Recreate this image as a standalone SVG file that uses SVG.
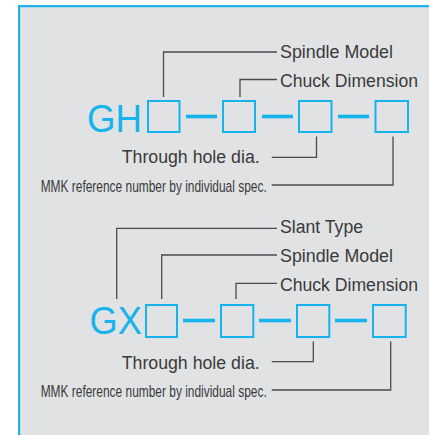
<svg xmlns="http://www.w3.org/2000/svg" width="429" height="435" viewBox="0 0 429 435">
<defs>
<style>
.panel{fill:#e1e2e4}
.edge{stroke:#1fb4ec;stroke-width:2.2;fill:none}
.box{fill:none;stroke:#17b3ec;stroke-width:2}
.dash{stroke:#17b3ec;stroke-width:3.6}
.code{font-family:"Liberation Sans",Arial,sans-serif;font-size:39px;fill:#17b3ec}
.lbl{font-family:"Liberation Sans",Arial,sans-serif;font-size:18px;fill:#3a3a3a}
.small{font-family:"Liberation Sans",Arial,sans-serif;font-size:17px;fill:#3a3a3a}
.lead{fill:none;stroke:#4a4a4a;stroke-width:1.3}
</style>
</defs>
<rect x="0" y="0" width="429" height="435" fill="#ffffff"/>
<rect class="panel" x="18" y="5" width="411" height="430"/>
<path class="edge" d="M19.1 435 V6.1 H429"/>

<g id="gh-code">
<text class="code" x="87" y="131.5" textLength="55" lengthAdjust="spacingAndGlyphs">GH</text>
<rect class="box" x="148" y="101" width="31.5" height="31"/>
<line class="dash" x1="186" y1="116.5" x2="217" y2="116.5"/>
<rect class="box" x="223" y="101" width="32" height="31"/>
<line class="dash" x1="262" y1="116.5" x2="293" y2="116.5"/>
<rect class="box" x="299" y="101" width="32.5" height="31"/>
<line class="dash" x1="338" y1="116.5" x2="369" y2="116.5"/>
<rect class="box" x="375.5" y="101" width="32.5" height="31"/>
</g>
<g id="gh-spindle"><text class="lbl" x="280" y="58.3" textLength="113" lengthAdjust="spacingAndGlyphs">Spindle Model</text></g>
<g id="gh-chuck"><text class="lbl" x="280" y="87.3" textLength="138" lengthAdjust="spacingAndGlyphs">Chuck Dimension</text></g>
<g id="gh-hole"><text class="lbl" x="121.7" y="163.3" textLength="138" lengthAdjust="spacingAndGlyphs">Through hole dia.</text></g>
<g id="gh-mmk"><text class="small" x="40.7" y="191.7" textLength="226" lengthAdjust="spacingAndGlyphs">MMK reference number by individual spec.</text></g>

<g id="gx-code">
<text class="code" x="89.5" y="334" textLength="52.5" lengthAdjust="spacingAndGlyphs">GX</text>
<rect class="box" x="146" y="305" width="31" height="32"/>
<line class="dash" x1="183" y1="320.5" x2="215" y2="320.5"/>
<rect class="box" x="221" y="305" width="32.3" height="32"/>
<line class="dash" x1="259" y1="320.5" x2="291" y2="320.5"/>
<rect class="box" x="297" y="305" width="32.3" height="32"/>
<line class="dash" x1="335" y1="320.5" x2="367" y2="320.5"/>
<rect class="box" x="373" y="305" width="32.7" height="32"/>
</g>
<g id="gx-slant"><text class="lbl" x="280" y="233.3" textLength="83" lengthAdjust="spacingAndGlyphs">Slant Type</text></g>
<g id="gx-spindle"><text class="lbl" x="280" y="262.3" textLength="113" lengthAdjust="spacingAndGlyphs">Spindle Model</text></g>
<g id="gx-chuck"><text class="lbl" x="280" y="290.7" textLength="138" lengthAdjust="spacingAndGlyphs">Chuck Dimension</text></g>
<g id="gx-hole"><text class="lbl" x="121.7" y="369" textLength="138" lengthAdjust="spacingAndGlyphs">Through hole dia.</text></g>
<g id="gx-mmk"><text class="small" x="40.7" y="396.7" textLength="226" lengthAdjust="spacingAndGlyphs">MMK reference number by individual spec.</text></g>

<g id="connectors">
<polyline class="lead" points="163.5,97 163.5,52 277,52"/>
<polyline class="lead" points="240,97 240,79.5 277,79.5"/>
<polyline class="lead" points="316.5,136.5 316.5,157.3 271.7,157.3"/>
<polyline class="lead" points="393,136.5 393,185 271.7,185"/>
<polyline class="lead" points="116.7,299 116.7,228.3 277,228.3"/>
<polyline class="lead" points="161.7,299 161.7,255 277,255"/>
<polyline class="lead" points="236,299 236,283.3 277,283.3"/>
<polyline class="lead" points="313.3,341.5 313.3,361.7 271.7,361.7"/>
<polyline class="lead" points="390.7,341.5 390.7,390 271.7,390"/>
</g>
</svg>
